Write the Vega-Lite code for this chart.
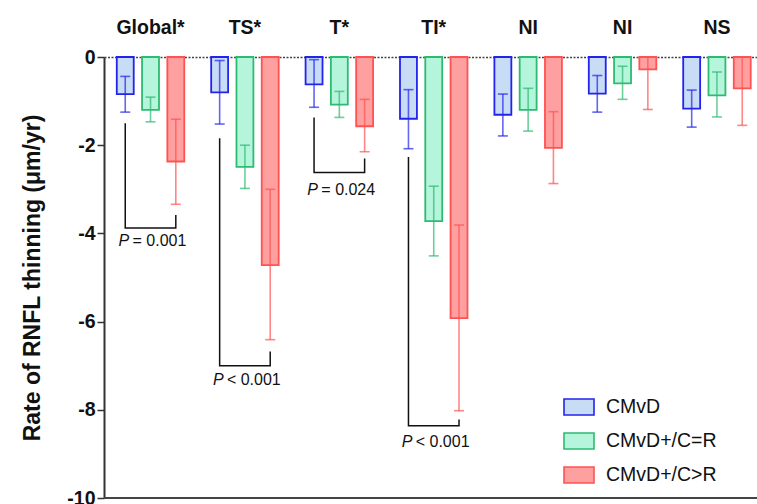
{
  "$schema": "https://vega.github.io/schema/vega-lite/v6.json",
  "width": 653,
  "height": 441,
  "autosize": "none",
  "padding": {"left": 104, "top": 57, "right": 0, "bottom": 6},
  "config": {
    "font": "Liberation Sans",
    "view": {"stroke": null},
    "axis": {"grid": false}
  },
  "datasets": {
    "bars": [
      {"group": "Global", "series": "CMvD", "mean": -0.84, "lo": -1.25, "hi": -0.44},
      {"group": "Global", "series": "CMvD+/C=R", "mean": -1.20, "lo": -1.47, "hi": -0.91},
      {"group": "Global", "series": "CMvD+/C>R", "mean": -2.37, "lo": -3.34, "hi": -1.41},
      {"group": "TS", "series": "CMvD", "mean": -0.80, "lo": -1.52, "hi": -0.08},
      {"group": "TS", "series": "CMvD+/C=R", "mean": -2.49, "lo": -2.98, "hi": -2.00},
      {"group": "TS", "series": "CMvD+/C>R", "mean": -4.72, "lo": -6.41, "hi": -3.00},
      {"group": "T", "series": "CMvD", "mean": -0.62, "lo": -1.14, "hi": -0.06},
      {"group": "T", "series": "CMvD+/C=R", "mean": -1.08, "lo": -1.37, "hi": -0.78},
      {"group": "T", "series": "CMvD+/C>R", "mean": -1.57, "lo": -2.15, "hi": -0.96},
      {"group": "TI", "series": "CMvD", "mean": -1.40, "lo": -2.08, "hi": -0.74},
      {"group": "TI", "series": "CMvD+/C=R", "mean": -3.72, "lo": -4.51, "hi": -2.93},
      {"group": "TI", "series": "CMvD+/C>R", "mean": -5.92, "lo": -8.02, "hi": -3.81},
      {"group": "NI", "series": "CMvD", "mean": -1.31, "lo": -1.79, "hi": -0.84},
      {"group": "NI", "series": "CMvD+/C=R", "mean": -1.20, "lo": -1.68, "hi": -0.71},
      {"group": "NI", "series": "CMvD+/C>R", "mean": -2.06, "lo": -2.87, "hi": -1.24},
      {"group": "NI2", "series": "CMvD", "mean": -0.83, "lo": -1.25, "hi": -0.42},
      {"group": "NI2", "series": "CMvD+/C=R", "mean": -0.60, "lo": -0.96, "hi": -0.21},
      {"group": "NI2", "series": "CMvD+/C>R", "mean": -0.28, "lo": -1.19, "hi": 0},
      {"group": "NS", "series": "CMvD", "mean": -1.17, "lo": -1.59, "hi": -0.75},
      {"group": "NS", "series": "CMvD+/C=R", "mean": -0.87, "lo": -1.36, "hi": -0.34},
      {"group": "NS", "series": "CMvD+/C>R", "mean": -0.71, "lo": -1.55, "hi": 0}
    ],
    "brackets": [
      {"br": "Global", "group": "Global", "series": "CMvD", "y": -1.5, "ord": 1},
      {"br": "Global", "group": "Global", "series": "CMvD", "y": -3.88, "ord": 2},
      {"br": "Global", "group": "Global", "series": "CMvD+/C>R", "y": -3.88, "ord": 3},
      {"br": "Global", "group": "Global", "series": "CMvD+/C>R", "y": -3.58, "ord": 4},
      {"br": "TS", "group": "TS", "series": "CMvD", "y": -1.84, "ord": 1},
      {"br": "TS", "group": "TS", "series": "CMvD", "y": -7.0, "ord": 2},
      {"br": "TS", "group": "TS", "series": "CMvD+/C>R", "y": -7.0, "ord": 3},
      {"br": "TS", "group": "TS", "series": "CMvD+/C>R", "y": -6.68, "ord": 4},
      {"br": "T", "group": "T", "series": "CMvD", "y": -1.37, "ord": 1},
      {"br": "T", "group": "T", "series": "CMvD", "y": -2.62, "ord": 2},
      {"br": "T", "group": "T", "series": "CMvD+/C>R", "y": -2.62, "ord": 3},
      {"br": "T", "group": "T", "series": "CMvD+/C>R", "y": -2.3, "ord": 4},
      {"br": "TI", "group": "TI", "series": "CMvD", "y": -2.27, "ord": 1},
      {"br": "TI", "group": "TI", "series": "CMvD", "y": -8.36, "ord": 2},
      {"br": "TI", "group": "TI", "series": "CMvD+/C>R", "y": -8.36, "ord": 3},
      {"br": "TI", "group": "TI", "series": "CMvD+/C>R", "y": -8.22, "ord": 4}
    ],
    "pvals": [
      {"group": "Global", "series": "CMvD+/C=R", "y": -4.18, "p": "P", "rest": "= 0.001"},
      {"group": "TS", "series": "CMvD+/C=R", "y": -7.33, "p": "P", "rest": "< 0.001"},
      {"group": "T", "series": "CMvD+/C=R", "y": -3.01, "p": "P", "rest": "= 0.024"},
      {"group": "TI", "series": "CMvD+/C=R", "y": -8.72, "p": "P", "rest": "< 0.001"}
    ]
  },
  "encoding": {
    "x": {
      "field": "group",
      "type": "nominal",
      "sort": ["Global", "TS", "T", "TI", "NI", "NI2", "NS"],
      "scale": {"domain": ["Global", "TS", "T", "TI", "NI", "NI2", "NS"], "paddingInner": 0.285, "paddingOuter": 0.101, "align": 0.67},
      "axis": {
        "orient": "top",
        "title": null,
        "labelAngle": 0,
        "ticks": false,
        "labelFontSize": 19.5,
        "labelFontWeight": "bold",
        "labelColor": "#111",
        "labelPadding": 20,
        "labelDx": 3,
        "domainColor": "#444",
        "domainWidth": 1.6,
        "domainDash": [2, 1.5],
        "labelExpr": "datum.value == 'NI2' ? 'NI' : (indexof(['Global','TS','T','TI'], datum.value) >= 0 ? datum.value + '*' : datum.value)"
      }
    },
    "xOffset": {
      "field": "series",
      "type": "nominal",
      "scale": {"domain": ["CMvD", "CMvD+/C=R", "CMvD+/C>R"], "paddingInner": 0.33, "paddingOuter": 0}
    }
  },
  "layer": [
    {
      "data": {"name": "bars"},
      "mark": {"type": "bar", "strokeWidth": 1.8},
      "encoding": {
        "y": {
          "field": "mean",
          "type": "quantitative",
          "scale": {"domain": [-10, 0], "nice": false},
          "axis": {
            "values": [0, -2, -4, -6, -8, -10],
            "labelExpr": "datum.value == 0 ? '0' : '-' + abs(datum.value)",
            "title": "Rate of RNFL thinning (μm/yr)",
            "titleFontSize": 23,
            "titleFontWeight": "bold",
            "titleColor": "#111",
            "titlePadding": 22,
            "labelFontSize": 19.5,
            "labelFontWeight": "bold",
            "labelColor": "#111",
            "labelPadding": 2,
            "tickSize": 7,
            "tickWidth": 1.5,
            "tickColor": "#333",
            "domainColor": "#333",
            "domainWidth": 2
          }
        },
        "fill": {
          "field": "series",
          "type": "nominal",
          "scale": {"domain": ["CMvD", "CMvD+/C=R", "CMvD+/C>R"], "range": ["#c8dcf6", "#b5f5dc", "#ffa0a0"]},
          "legend": {
            "title": null,
            "orient": "none",
            "legendX": 459,
            "legendY": 334,
            "symbolType": "M-1,-0.533H1V0.533H-1Z",
            "symbolSize": 900,
            "symbolStrokeWidth": 1.6,
            "labelFontSize": 19.5,
            "labelColor": "#111",
            "labelOffset": 11,
            "rowPadding": 6,
            "padding": 0
          }
        },
        "stroke": {
          "field": "series",
          "type": "nominal",
          "scale": {"domain": ["CMvD", "CMvD+/C=R", "CMvD+/C>R"], "range": ["#2323ee", "#2dbb72", "#ff5252"]},
          "legend": {
            "title": null,
            "orient": "none",
            "legendX": 459,
            "legendY": 334,
            "symbolType": "M-1,-0.533H1V0.533H-1Z",
            "symbolSize": 900,
            "symbolStrokeWidth": 1.6,
            "labelFontSize": 19.5,
            "labelColor": "#111",
            "labelOffset": 11,
            "rowPadding": 6,
            "padding": 0
          }
        }
      }
    },
    {
      "data": {"name": "bars"},
      "mark": {"type": "rule", "strokeWidth": 1.6, "strokeOpacity": 0.7},
      "encoding": {
        "y": {"field": "lo", "type": "quantitative"},
        "y2": {"field": "hi"},
        "stroke": {"field": "series", "type": "nominal"}
      }
    },
    {
      "data": {"name": "bars"},
      "mark": {"type": "tick", "size": 10, "thickness": 1.6, "opacity": 0.7},
      "encoding": {
        "y": {"field": "lo", "type": "quantitative"},
        "color": {"field": "series", "type": "nominal", "scale": {"domain": ["CMvD", "CMvD+/C=R", "CMvD+/C>R"], "range": ["#2323ee", "#2dbb72", "#ff5252"]}, "legend": null}
      }
    },
    {
      "data": {"name": "bars"},
      "transform": [{"filter": "datum.hi < 0"}],
      "mark": {"type": "tick", "size": 10, "thickness": 1.6, "opacity": 0.7},
      "encoding": {
        "y": {"field": "hi", "type": "quantitative"},
        "color": {"field": "series", "type": "nominal", "legend": null}
      }
    },
    {
      "data": {"name": "brackets"},
      "mark": {"type": "line", "color": "#111", "strokeWidth": 1.5},
      "encoding": {
        "y": {"field": "y", "type": "quantitative"},
        "detail": {"field": "br"},
        "order": {"field": "ord", "type": "quantitative"}
      }
    },
    {
      "data": {"name": "pvals"},
      "mark": {"type": "text", "fontStyle": "italic", "fontSize": 16, "align": "left", "baseline": "middle", "dx": -32, "color": "#111"},
      "encoding": {
        "y": {"field": "y", "type": "quantitative"},
        "text": {"field": "p"}
      }
    },
    {
      "data": {"name": "pvals"},
      "mark": {"type": "text", "fontSize": 16, "align": "left", "baseline": "middle", "dx": -18, "color": "#111"},
      "encoding": {
        "y": {"field": "y", "type": "quantitative"},
        "text": {"field": "rest"}
      }
    },
    {
      "data": {"values": [{"v": -10}]},
      "mark": {"type": "rule", "color": "#444", "strokeWidth": 2},
      "encoding": {
        "x": null,
        "xOffset": null,
        "y": {"field": "v", "type": "quantitative"}
      }
    }
  ]
}
